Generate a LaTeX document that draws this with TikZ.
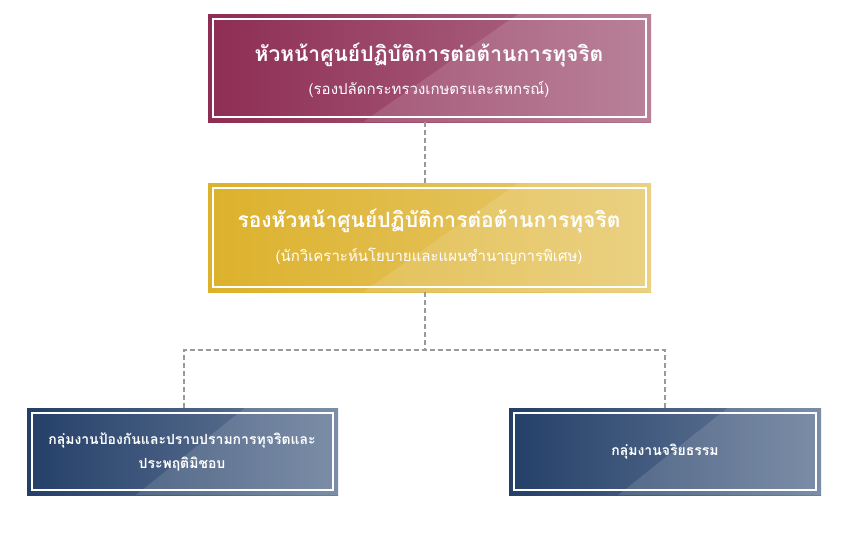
\documentclass[tikz,border=0pt]{standalone}
\usepackage{fontspec}
\newfontfamily\thaifont[Script=Thai]{Loma}
\begin{document}
\begin{tikzpicture}[x=1pt,y=-1pt,
  conn/.style={draw=gray!80, dashed, line width=1.4pt, dash pattern=on 5pt off 3pt},
  txt/.style={text=white, font=\thaifont, align=center}]
\useasboundingbox (0,0) rectangle (850,550);
\newcommand{\mybox}[7]{% x1 y1 x2 y2 dark light name
  \shade[left color=#5, right color=#6] (#1,#2) rectangle (#3,#4);
  \fill[white, opacity=0.12] ({#1+0.7*(#3-#1)},#2) -- (#3,#2) -- (#3,#4) -- ({#1+0.35*(#3-#1)},#4) -- cycle;
  \draw[white, line width=2pt] ({#1+5},{#2+5}) rectangle ({#3-5},{#4-5});
  \coordinate (#7) at ({(#1+#3)/2},{(#2+#4)/2});
  \coordinate (#7t) at ({(#1+#3)/2},#2);
  \coordinate (#7b) at ({(#1+#3)/2},#4);
}
\definecolor{mar}{HTML}{8E2D53}\definecolor{marl}{HTML}{B0708C}
\definecolor{gold}{HTML}{DCB12C}\definecolor{goldl}{HTML}{E8CB72}
\definecolor{nav}{HTML}{243F68}\definecolor{navl}{HTML}{6A7E9B}
\mybox{208}{14}{651}{122}{mar}{marl}{A}
\mybox{208}{183}{651}{292}{gold}{goldl}{B}
\mybox{27}{408}{338}{495}{nav}{navl}{C}
\mybox{509}{408}{821}{495}{nav}{navl}{D}
\node[txt, font=\thaifont\bfseries\fontsize{21}{24}\selectfont] (a1) at (429,55) {หัวหน้าศูนย์ปฏิบัติการต่อต้านการทุจริต};
\node[txt, font=\thaifont\fontsize{15}{18}\selectfont] (a2) at (429,89) {(รองปลัดกระทรวงเกษตรและสหกรณ์)};
\node[txt, font=\thaifont\bfseries\fontsize{21}{24}\selectfont] (b1) at (429,221) {รองหัวหน้าศูนย์ปฏิบัติการต่อต้านการทุจริต};
\node[txt, font=\thaifont\fontsize{15}{18}\selectfont] (b2) at (429,256) {(นักวิเคราะห์นโยบายและแผนชำนาญการพิเศษ)};
\node[txt, font=\thaifont\bfseries\fontsize{14}{24}\selectfont] (c1) at (182,452) {กลุ่มงานป้องกันและปราบปรามการทุจริตและ\\ประพฤติมิชอบ};
\node[txt, font=\thaifont\bfseries\fontsize{14}{18}\selectfont] (d1) at (665,452) {กลุ่มงานจริยธรรม};
\coordinate (m) at (425,350);
\draw[conn] (425,122) -- (425,183);
\draw[conn] (425,292) -- (m);
\draw[conn] (184,408) -- (184,350) -- (665,350) -- (665,408);
\end{tikzpicture}
\end{document}
